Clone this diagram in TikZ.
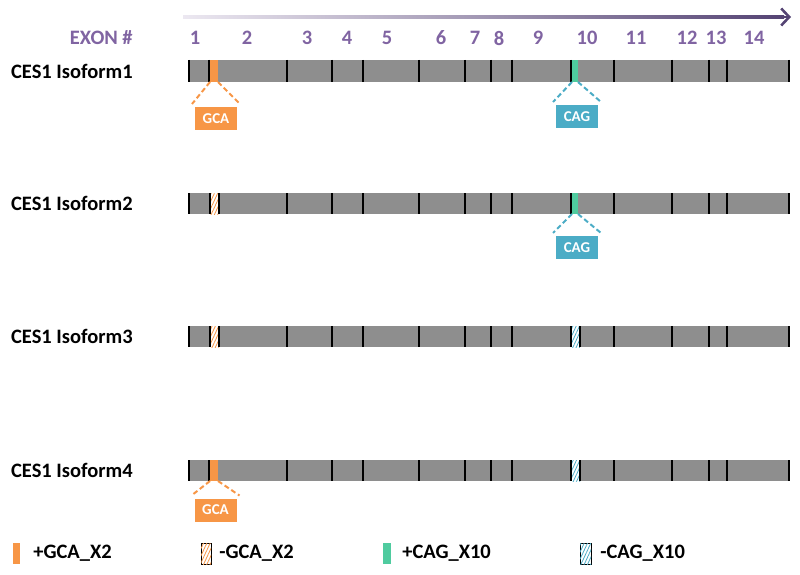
\documentclass[tikz,border=0pt]{standalone}
\usepackage{fontspec}
\setmainfont{Carlito}
\usetikzlibrary{arrows.meta,patterns.meta,shadows}
\definecolor{exonpurple}{HTML}{8064A2}
\definecolor{bargray}{HTML}{8E8E8E}
\definecolor{gcaorange}{HTML}{F79646}
\definecolor{cagblue}{HTML}{4BACC6}
\definecolor{caggreen}{HTML}{4FCB9F}
\definecolor{arrowdark}{HTML}{554474}
\definecolor{arrowlight}{HTML}{ECE8F1}
\tikzset{
  rowlabel/.style={font=\fontsize{20.5}{24}\selectfont\bfseries, anchor=east, inner sep=0pt},
  exonlabel/.style={font=\fontsize{20.5}{24}\selectfont\bfseries, text=exonpurple, inner sep=0pt},
  legendtext/.style={font=\fontsize{20.5}{24}\selectfont\bfseries, anchor=west, inner sep=0pt},
  tick/.style={line width=2pt},
  callout/.style={draw=white, line width=3pt, minimum width=45pt, minimum height=26pt, inner sep=0pt,
    text=white, font=\fontsize{15}{17}\selectfont\bfseries,
    drop shadow={shadow xshift=1pt, shadow yshift=-1.5pt, opacity=0.3}},
  calloutdash/.style={line width=2pt, dash pattern=on 5pt off 3pt},
  gcahatch/.style={fill=white, postaction={pattern={Lines[angle=65,distance=3pt,line width=0.8pt]}, pattern color=gcaorange}},
  caghatch/.style={fill=white, postaction={pattern={Lines[angle=65,distance=3pt,line width=0.8pt]}, pattern color=cagblue}},
  legendbox/.style={draw=black, line width=0.8pt, drop shadow={shadow xshift=0.8pt, shadow yshift=-1pt, opacity=0.3}}
}
\begin{document}
\begin{tikzpicture}[x=1pt, y=-1pt, line width=0.6pt]
  \useasboundingbox (0,0) rectangle (800,575);
  \shade[left color=arrowlight, right color=arrowdark] (183,15.7) rectangle (784,18.3);
  \draw[arrowdark, line width=2.6pt, -{Straight Barb[length=8pt,width=17pt,line width=2.6pt]}] (780,17) -- (791,17);
  \node[exonlabel, anchor=east] (exonhead) at (133,38) {EXON \#};
  \node[exonlabel] (e1) at (195,38) {1};
  \node[exonlabel] (e2) at (247,38) {2};
  \node[exonlabel] (e3) at (307,38) {3};
  \node[exonlabel] (e4) at (347,38) {4};
  \node[exonlabel] (e5) at (387,38) {5};
  \node[exonlabel] (e6) at (441,38) {6};
  \node[exonlabel] (e7) at (475,38) {7};
  \node[exonlabel] (e8) at (499,38) {8};
  \node[exonlabel] (e9) at (538,38) {9};
  \node[exonlabel] (e10) at (587,38) {10};
  \node[exonlabel] (e11) at (636,38) {11};
  \node[exonlabel] (e12) at (687,38) {12};
  \node[exonlabel] (e13) at (716,38) {13};
  \node[exonlabel] (e14) at (754,38) {14};
  % isoform 1
  \node[rowlabel] (iso1) at (133,71) {CES1 Isoform1};
  \fill[bargray] (189,60) rectangle (789,82);
  \fill[gcaorange] (210,60) rectangle (218,82);
  \fill[caggreen] (572,60) rectangle (578,82);
  \foreach \x in {189,209,287,332,363,419,465,491,512,571,614,672,709,727,789}
    \draw[tick] (\x,60) -- (\x,82);
  \coordinate (gcaL1) at (210,82);
  \coordinate (gcaR1) at (218,82);
  \coordinate (cagL1) at (572,82);
  \coordinate (cagR1) at (578,82);
  \node[callout, fill=gcaorange] (gca1) at (216,118.5) {GCA};
  \node[callout, fill=cagblue] (cag1) at (577,116.5) {CAG};
  \draw[calloutdash, gcaorange] (gcaL1) -- (gca1.north west);
  \draw[calloutdash, gcaorange] (gcaR1) -- (gca1.north east);
  \draw[calloutdash, cagblue] (cagL1) -- (cag1.north west);
  \draw[calloutdash, cagblue] (cagR1) -- (cag1.north east);
  % isoform 2
  \node[rowlabel] (iso2) at (133,203.5) {CES1 Isoform2};
  \fill[bargray] (189,193) rectangle (789,214);
  \path[gcahatch] (210,193) rectangle (219,214);
  \fill[caggreen] (572,193) rectangle (578,214);
  \foreach \x in {189,210,219,287,332,363,419,465,491,512,571,614,672,709,727,789}
    \draw[tick] (\x,193) -- (\x,214);
  \coordinate (cagL2) at (572,214);
  \coordinate (cagR2) at (578,214);
  \node[callout, fill=cagblue] (cag2) at (577,247.5) {CAG};
  \draw[calloutdash, cagblue] (cagL2) -- (cag2.north west);
  \draw[calloutdash, cagblue] (cagR2) -- (cag2.north east);
  % isoform 3
  \node[rowlabel] (iso3) at (133,336.5) {CES1 Isoform3};
  \fill[bargray] (189,326) rectangle (789,347);
  \path[gcahatch] (210,326) rectangle (219,347);
  \path[caghatch] (571,326) rectangle (580,347);
  \foreach \x in {189,210,219,287,332,363,419,465,491,512,571,580,614,672,709,727,789}
    \draw[tick] (\x,326) -- (\x,347);
  % isoform 4
  \node[rowlabel] (iso4) at (133,470.5) {CES1 Isoform4};
  \fill[bargray] (189,460) rectangle (789,481);
  \fill[gcaorange] (210,460) rectangle (218,481);
  \path[caghatch] (571,460) rectangle (580,481);
  \foreach \x in {189,209,287,332,363,419,465,491,512,571,580,614,672,709,727,789}
    \draw[tick] (\x,460) -- (\x,481);
  \coordinate (gcaL4) at (210,481);
  \coordinate (gcaR4) at (218,481);
  \node[callout, fill=gcaorange] (gca4) at (215.5,510) {GCA};
  \draw[calloutdash, gcaorange] (gcaL4) -- (gca4.north west);
  \draw[calloutdash, gcaorange] (gcaR4) -- (gca4.north east);
  % legend
  \fill[gcaorange] (13,543) rectangle (20,564);
  \node[legendtext] (leg1) at (33,553) {+GCA\_X2};
  \path[gcahatch, legendbox] (201,543) rectangle (211,564);
  \node[legendtext] (leg2) at (219,553) {-GCA\_X2};
  \fill[caggreen] (383,543) rectangle (391,564);
  \node[legendtext] (leg3) at (402,553) {+CAG\_X10};
  \path[caghatch, legendbox] (580,543) rectangle (591,564);
  \node[legendtext] (leg4) at (600,553) {-CAG\_X10};
\end{tikzpicture}
\end{document}
